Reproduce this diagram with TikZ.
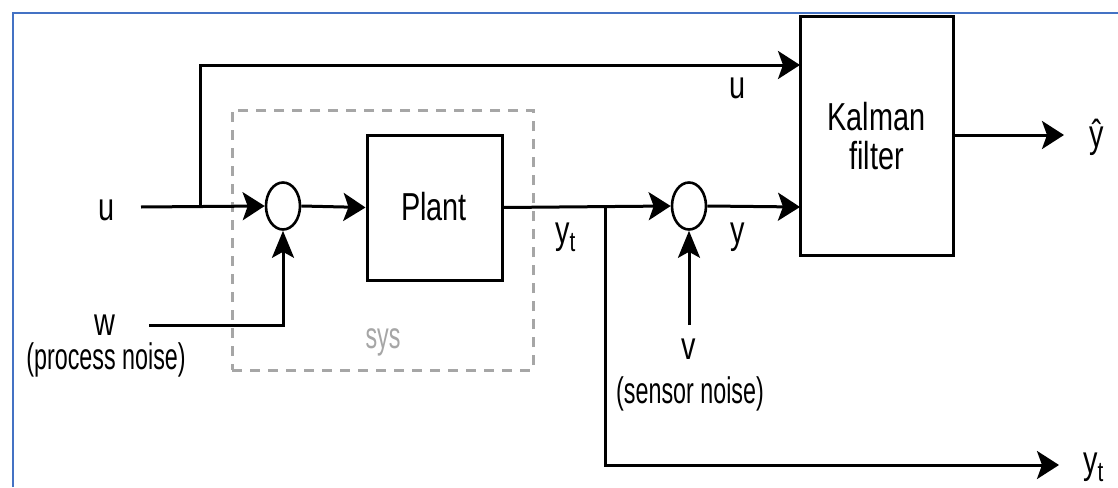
\documentclass[tikz,border=0pt]{standalone}
\usepackage{fontspec}
\setmainfont{Liberation Sans}
\newfontfamily\mainf{Liberation Sans}[FakeStretch=0.74]
\newfontfamily\smallf{Liberation Sans}[FakeStretch=0.63]
\usetikzlibrary{arrows.meta,shapes.geometric}
\definecolor{bordblue}{RGB}{68,114,196}
\definecolor{sysgray}{RGB}{166,166,166}
\newcommand{\bigtxt}{\mainf\fontsize{39}{42}\selectfont}
\newcommand{\smtxt}{\smallf\fontsize{37}{40}\selectfont}
\newcommand{\subt}{{\fontsize{28}{30}\selectfont\raisebox{-8pt}{t}}}
\begin{document}
\begin{tikzpicture}[x=1pt,y=-1pt,
  blk/.style={draw,line width=3pt,rectangle,inner sep=0pt},
  sumnode/.style={draw,line width=2.6pt,ellipse,inner sep=0pt,minimum width=34pt,minimum height=47pt},
  wire/.style={line width=3pt},
  harr/.style={wire,-{Stealth[length=22pt,width=28pt,inset=5pt]}},
  varr/.style={wire,-{Stealth[length=27pt,width=22pt,inset=6pt]}},
  lbl/.style={inner sep=0pt,anchor=base,font=\bigtxt},
  slbl/.style={inner sep=0pt,anchor=base,font=\smtxt}]
\useasboundingbox (0,0) rectangle (1118,487);
\fill[white] (0,0) rectangle (1118,487);
\draw[bordblue,line width=2pt] (13,487) -- (13,13) -- (1118,13);

% blocks
\node[blk,minimum width=153pt,minimum height=238pt,align=center,font=\bigtxt] (kal) at (876.5,136) {Kalman\\[-3pt]filter};
\node[blk,minimum width=135pt,minimum height=145pt] (plant) at (434.5,207.5) {};
\node[lbl] (plantlbl) at (434,220) {Plant};
\node[sumnode] (s1) at (283,206) {};
\node[sumnode] (s2) at (689,206) {};
\node[draw=sysgray,line width=3pt,dash pattern=on 10pt off 8pt,minimum width=301pt,minimum height=260pt,inner sep=0pt] (sys) at (382.5,240) {};
\node[slbl,text=sysgray] (syslbl) at (383,348) {sys};

% coordinates
\coordinate (uin) at (141,207);
\coordinate (bu) at (200,207);
\coordinate (ku) at (800,65);
\coordinate (win) at (149,325);
\coordinate (by) at (605,207);
\coordinate (ytout) at (1059,465);
\coordinate (vin) at (689,325);
\coordinate (ky) at (800,207);
\coordinate (kout) at (953,135);
\coordinate (yhat) at (1064,135);

% connectors
\draw[harr] (uin) -- (s1.west);
\draw[harr] (bu) |- (ku);
\draw[varr] (win) -| (s1.south);
\draw[harr] (s1.east) -- (plant.west);
\draw[harr] (plant.east) -- (s2.west);
\draw[harr] (by) |- (ytout);
\draw[varr] (vin) -- (s2.south);
\draw[harr] (s2.east) -- (ky);
\draw[harr] (kout) -- (yhat);

% labels
\node[lbl] (lu) at (107,220) {u};
\node[lbl] (lw) at (105,335) {w};
\node[slbl] (lpn) at (106,369) {(process noise)};
\node[lbl] (lv) at (689,359) {v};
\node[slbl] (lsn) at (690,403) {(sensor noise)};
\node[lbl,anchor=base west] (lyt1) at (555,243) {y\subt};
\node[lbl] (ly) at (738,243) {y};
\node[lbl] (lu2) at (738,98) {u};
\node[lbl] (lyhat) at (1097,147) {ŷ};
\node[lbl,anchor=base west] (lyt2) at (1083,473) {y\subt};
\end{tikzpicture}
\end{document}
